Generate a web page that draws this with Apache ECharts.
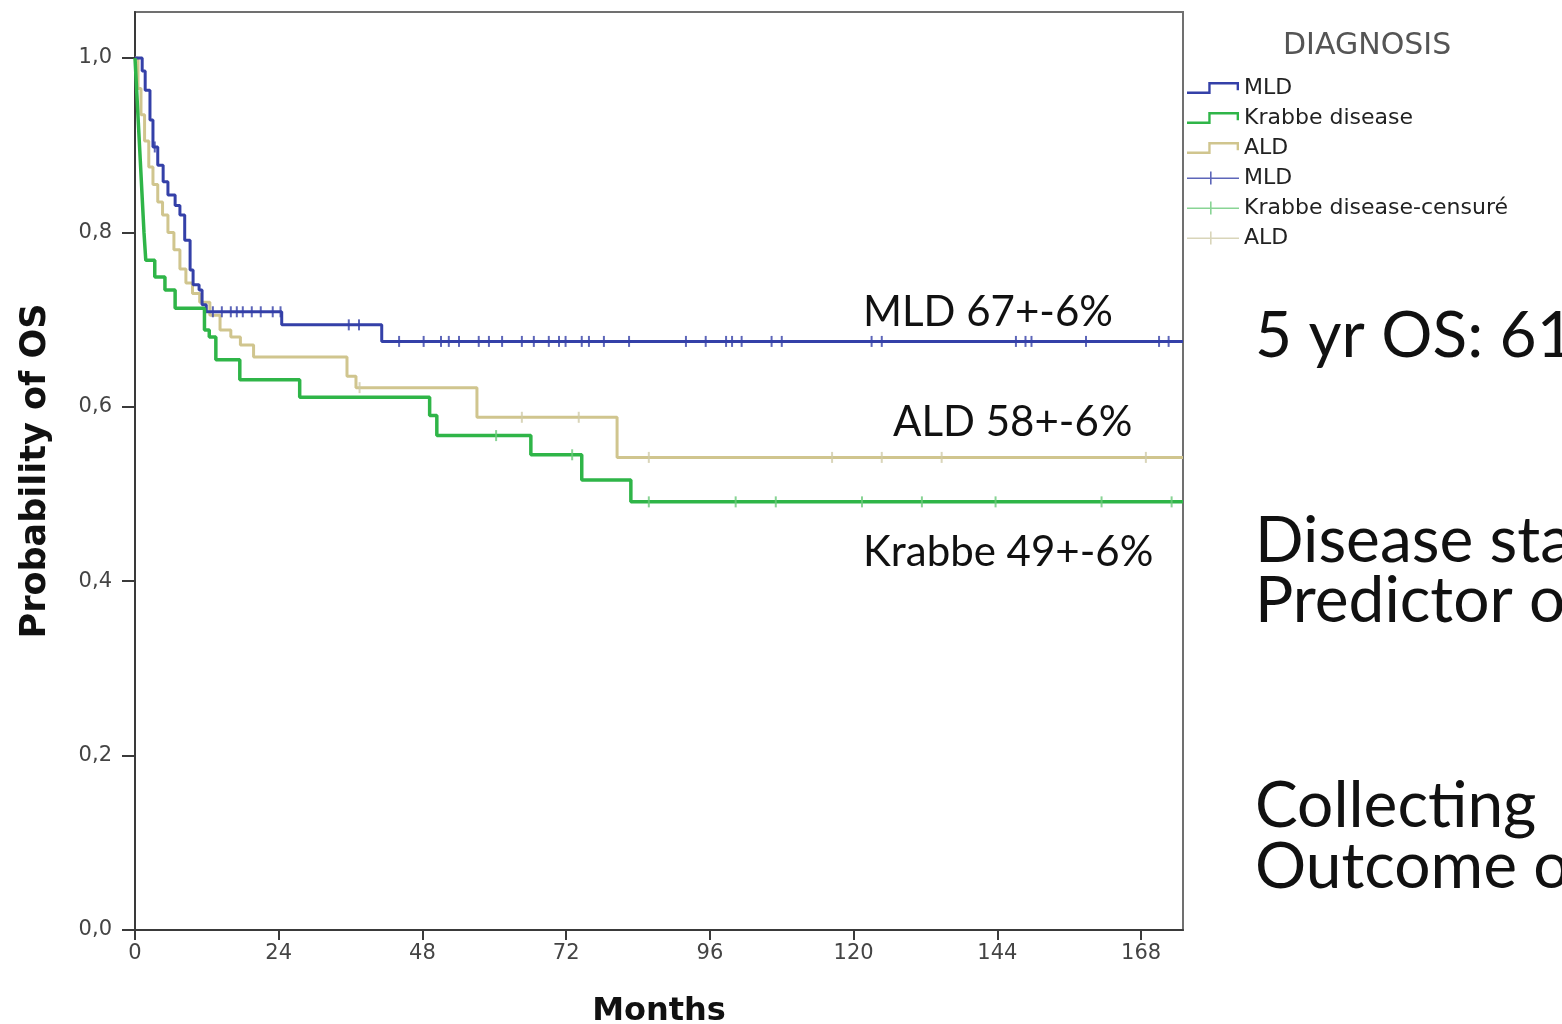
<!DOCTYPE html>
<html>
<head>
<meta charset="utf-8">
<script src="https://cdn.jsdelivr.net/npm/echarts@6/dist/echarts.min.js"></script>
<style>html,body{margin:0;padding:0;background:#fff;}#c{width:1562px;height:1024px;}</style>
</head>
<body>
<div id="c"></div>
<script>
// ---- data ----
const monthTicks = [0, 24, 48, 72, 96, 120, 144, 168];
const probTicks = [0, 0.2, 0.4, 0.6, 0.8, 1.0];

const mldTime = [0, 1.2, 1.7, 2.5, 3.0, 3.8, 4.7, 5.5, 6.7, 7.5, 8.3, 9.2, 9.7, 10.7, 11.2, 11.9, 24.5, 41.2, 175];
const mldSurv = [1.0, 0.985, 0.963, 0.929, 0.898, 0.877, 0.858, 0.843, 0.831, 0.82, 0.791, 0.757, 0.74, 0.734, 0.717, 0.709, 0.694, 0.675, 0.675];
const mldCensor = [3.3, 13.0, 14.5, 16.0, 17.0, 18.0, 19.5, 21.0, 23.0, 24.3, 35.7, 37.4, 44.1, 48.2, 51.1, 52.4, 54.1, 57.4, 59.1, 61.3, 64.6, 66.6, 69.1, 70.8, 71.9, 74.6, 75.8, 78.3, 82.5, 92.0, 95.3, 98.7, 99.7, 101.3, 106.3, 108.0, 123.0, 124.7, 147.1, 148.7, 149.7, 158.8, 171.0, 172.6];

const krabbeTime = [0, 0.3, 0.6, 0.9, 1.2, 1.5, 1.8, 3.3, 5.0, 6.7, 11.6, 12.4, 13.5, 17.5, 27.5, 49.2, 50.4, 66.1, 74.6, 82.8, 175];
const krabbeSurv = [1.0, 0.96, 0.92, 0.88, 0.84, 0.80, 0.768, 0.749, 0.734, 0.713, 0.688, 0.68, 0.654, 0.631, 0.611, 0.59, 0.567, 0.545, 0.516, 0.491, 0.491];
const krabbeCensor = [60.3, 73.0, 85.8, 100.3, 107.0, 121.4, 131.4, 143.7, 161.4, 173.1];

const aldTime = [0, 0.5, 1.0, 1.6, 2.3, 3.0, 3.8, 4.6, 5.5, 6.5, 7.5, 8.5, 9.6, 10.8, 12.5, 14.2, 16.0, 17.6, 19.8, 35.4, 36.9, 57.1, 80.5, 175];
const aldSurv = [1.0, 0.965, 0.935, 0.905, 0.875, 0.855, 0.835, 0.82, 0.80, 0.78, 0.758, 0.742, 0.73, 0.72, 0.705, 0.688, 0.68, 0.671, 0.657, 0.635, 0.622, 0.588, 0.542, 0.542];
const aldCensor = [37.5, 64.6, 74.1, 85.8, 116.4, 124.7, 134.7, 168.8];

const groupNames = ['MLD', 'Krabbe disease', 'ALD'];
const censorNames = ['MLD ', 'Krabbe disease-censuré', 'ALD '];
const annotations = ['MLD 67+-6%', 'ALD 58+-6%', 'Krabbe 49+-6%'];
const sideTexts = ['5 yr OS: 61', 'Disease sta', 'Predictor o', 'Collecting', 'Outcome o'];

// ---- helpers ----
function pairs(t, s) { return t.map((v, i) => [v, s[i]]); }
function survAt(t, s, x) { let k = 0; for (let i = 0; i < t.length; i++) { if (t[i] <= x) k = i; } return s[k]; }
function censorPts(c, t, s) { return c.map(x => [x, survAt(t, s, x)]); }

const C_MLD = '#3440a8', C_KR = '#2fb548', C_ALD = '#d0c58e';
const stepIcon = 'path://M0,9 L18,9 L18,1 L44,1 L44,8 L42,8 L42,3 L20,3 L20,11 L0,11 Z';
const plusIcon = 'path://M0,6 L52,6 L52,7.5 L0,7.5 Z M23,0 L24.6,0 L24.6,13 L23,13 Z';

const chart = echarts.init(document.getElementById('c'), null, { renderer: 'canvas' });
const font = 'DejaVu Sans';
const option = {
  animation: false,
  backgroundColor: '#ffffff',
  title: {
    text: 'DIAGNOSIS', left: 1278, top: 26,
    textStyle: { fontFamily: font, fontSize: 30, fontWeight: 'normal', color: '#555' }
  },
  legend: {
    orient: 'vertical', left: 1187, top: 77, padding: 0,
    itemWidth: 52, itemHeight: 14, itemGap: 8,
    textStyle: { fontFamily: font, fontSize: 22, color: '#222' },
    formatter: n => n.trim(),
    data: [
      { name: groupNames[0], icon: stepIcon },
      { name: groupNames[1], icon: stepIcon },
      { name: groupNames[2], icon: stepIcon },
      { name: censorNames[0], icon: plusIcon },
      { name: censorNames[1], icon: plusIcon },
      { name: censorNames[2], icon: plusIcon }
    ]
  },
  grid: { left: 135, right: 379, top: 12, bottom: 94, show: true, borderColor: '#707070', borderWidth: 2,
    containLabel: false, outerBoundsMode: 'none' },
  xAxis: {
    type: 'value', min: 0, max: 175,
    name: 'Months', nameLocation: 'middle', nameGap: 66,
    nameTextStyle: { fontFamily: font, fontWeight: 'bold', fontSize: 32, color: '#111' },
    axisLine: { lineStyle: { color: '#3a3a3a', width: 2 } },
    axisTick: { customValues: monthTicks, length: 10, lineStyle: { color: '#3a3a3a', width: 2 } },
    axisLabel: { customValues: monthTicks, margin: 13, fontFamily: font, fontSize: 21, color: '#444' },
    splitLine: { show: false }
  },
  yAxis: {
    type: 'value', min: 0, max: 1.0528,
    name: 'Probability of OS', nameLocation: 'middle', nameGap: 82,
    nameTextStyle: { fontFamily: font, fontWeight: 'bold', fontSize: 35, color: '#111' },
    axisLine: { lineStyle: { color: '#3a3a3a', width: 2 } },
    axisTick: { customValues: probTicks, length: 13, lineStyle: { color: '#3a3a3a', width: 2 } },
    axisLabel: { customValues: probTicks, margin: 23, fontFamily: font, fontSize: 21, color: '#444',
      formatter: v => v.toFixed(1).replace('.', ',') },
    splitLine: { show: false }
  },
  series: [
    { name: groupNames[2], type: 'line', step: 'end', showSymbol: false, data: pairs(aldTime, aldSurv),
      color: C_ALD, lineStyle: { color: C_ALD, width: 3 }, z: 2 },
    { name: groupNames[0], type: 'line', step: 'end', showSymbol: false, data: pairs(mldTime, mldSurv),
      color: C_MLD, lineStyle: { color: C_MLD, width: 3 }, z: 3 },
    { name: groupNames[1], type: 'line', step: 'end', showSymbol: false, data: pairs(krabbeTime, krabbeSurv),
      color: C_KR, lineStyle: { color: C_KR, width: 3.5 }, z: 4 },
    { name: censorNames[0], type: 'scatter', symbol: 'rect', symbolSize: [2, 11], color: C_MLD,
      data: censorPts(mldCensor, mldTime, mldSurv), z: 5 },
    { name: censorNames[1], type: 'scatter', symbol: 'rect', symbolSize: [2, 11], color: '#6cc97a',
      data: censorPts(krabbeCensor, krabbeTime, krabbeSurv), z: 5 },
    { name: censorNames[2], type: 'scatter', symbol: 'rect', symbolSize: [2, 11], color: '#cfcaa8',
      data: censorPts(aldCensor, aldTime, aldSurv), z: 5 }
  ],
  graphic: [
    { type: 'text', x: 863, y: 312, style: { text: annotations[0], fontFamily: 'Lato', fontSize: 42, fill: '#111', textAlign: 'left', textVerticalAlign: 'middle' } },
    { type: 'text', x: 893, y: 422, style: { text: annotations[1], fontFamily: 'Lato', fontSize: 42, fill: '#111', textAlign: 'left', textVerticalAlign: 'middle' } },
    { type: 'text', x: 863, y: 552, style: { text: annotations[2], fontFamily: 'Lato', fontSize: 42, fill: '#111', textAlign: 'left', textVerticalAlign: 'middle' } },
    { type: 'text', x: 1255, y: 336, style: { text: sideTexts[0], fontFamily: 'Lato', fontSize: 64, fill: '#111', textAlign: 'left', textVerticalAlign: 'middle' } },
    { type: 'text', x: 1255, y: 541, style: { text: sideTexts[1], fontFamily: 'Lato', fontSize: 64, fill: '#111', textAlign: 'left', textVerticalAlign: 'middle' } },
    { type: 'text', x: 1255, y: 601, style: { text: sideTexts[2], fontFamily: 'Lato', fontSize: 64, fill: '#111', textAlign: 'left', textVerticalAlign: 'middle' } },
    { type: 'text', x: 1255, y: 806, style: { text: sideTexts[3], fontFamily: 'Lato', fontSize: 64, fill: '#111', textAlign: 'left', textVerticalAlign: 'middle' } },
    { type: 'text', x: 1255, y: 867, style: { text: sideTexts[4], fontFamily: 'Lato', fontSize: 64, fill: '#111', textAlign: 'left', textVerticalAlign: 'middle' } }
  ]
};
chart.setOption(option);
</script>
</body>
</html>
